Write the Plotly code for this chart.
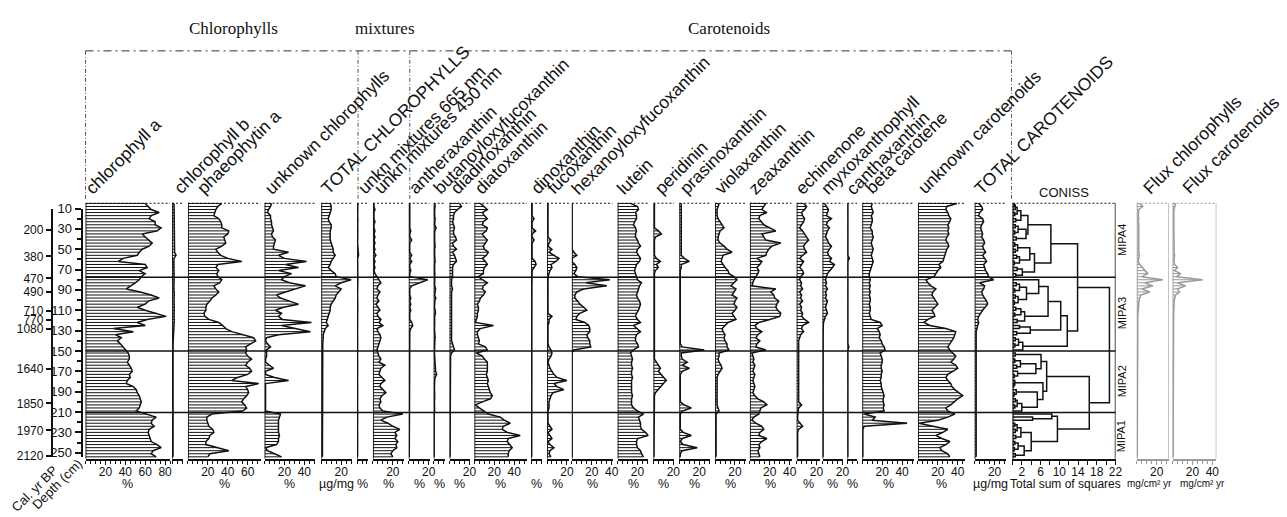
import plotly.graph_objects as go

W, H = 1287, 517

# ---------------- sample depths (cm) ----------------
depth = [5, 8, 11, 14, 17, 20, 23, 26, 29, 32, 35, 38,
         41, 44, 47, 50, 53, 56, 59, 62, 65, 68, 71, 74,
         77, 80, 83, 86, 89, 92, 95, 98, 101, 104, 107, 110,
         113, 116, 119, 122, 125, 128, 131, 134, 137, 140, 143, 146,
         149, 152, 155, 158, 161, 164, 167, 170, 173, 176, 179, 182,
         185, 188, 191, 194, 197, 200, 203, 206, 209, 212, 215, 218,
         221, 224, 227, 230, 233, 236, 239, 242, 245, 248, 251, 254]

# ---------------- pigment series ----------------
chl_a = [60, 63, 66, 74, 66, 64, 70, 70, 76, 72, 57, 60,
         64, 67, 64, 57, 54, 52, 38, 33, 60, 62, 54, 60,
         56, 54, 50, 45, 41, 55, 66, 74, 63, 60, 52, 60,
         72, 81, 62, 52, 60, 28, 48, 30, 36, 32, 35, 38,
         41, 43, 44, 44, 42, 44, 46, 47, 44, 45, 42, 41,
         48, 51, 52, 54, 55, 56, 55, 54, 51, 62, 71, 67,
         66, 69, 64, 63, 64, 65, 66, 72, 76, 68, 66, 71]
chl_b = [2, 2, 1.8, 2, 2.2, 2, 1.8, 2, 2, 1.8, 2, 2.2,
         2, 1.8, 2, 2.5, 2.5, 4, 2, 1.8, 2, 2.2, 1.8, 2,
         2, 2.2, 2, 1.8, 2, 2.5, 2.2, 2, 1.8, 2, 2.2, 2,
         1.8, 2, 2.2, 2, 1.6, 1.8, 1.5, 1.5, 1.2, 1.2, 1.0, 1.0,
         1.0, 1.0, 1.1, 0.9, 1.0, 1.0, 0.9, 1.0, 1.1, 1.0, 1.0, 0.9,
         1.0, 1.1, 1.0, 0.9, 1.0, 1.0, 1.1, 1.0, 0.9, 1.0, 1.0, 1.1,
         1.0, 0.9, 1.0, 1.0, 1.1, 1.0, 0.9, 1.0, 1.0, 1.1, 1.0, 1.0]
phaeo_a = [34, 30, 28, 27, 26, 31, 33, 34, 34, 41, 40, 36,
           37, 38, 34, 28, 30, 33, 40, 54, 30, 28, 31, 29,
           30, 34, 32, 26, 28, 31, 28, 24, 22, 19, 18, 18,
           16, 17, 21, 31, 35, 38, 44, 55, 66, 68, 63, 58,
           59, 58, 60, 64, 60, 58, 62, 64, 60, 50, 44, 71,
           58, 60, 61, 59, 56, 54, 57, 59, 55, 24, 19, 19,
           20, 21, 25, 26, 22, 21, 18, 18, 30, 41, 22, 20]
unk_chl = [7, 6, 4, 3, 6, 6, 7, 7, 8, 9, 7, 8,
           11, 10, 9, 9, 24, 14, 20, 42, 21, 34, 14, 27,
           20, 17, 25, 41, 30, 21, 12, 16, 25, 34, 19, 11,
           17, 14, 18, 47, 17, 30, 46, 14, 2, 1, 3, 6,
           2, 2, 2, 1, 1, 5, 9, 1, 1, 10, 24, 1,
           1, 1, 1, 1, 1, 1, 1, 1, 1, 16, 15, 14,
           14, 14, 14, 14, 15, 14, 14, 12, 1, 3, 10, 17]
tot_chl = [9, 10, 10, 9, 8, 7, 8, 10, 10, 9, 9, 9,
           9, 10, 11, 12, 12, 14, 12, 10, 9, 7, 10, 14,
           15, 30, 20, 14, 20, 17, 15, 14, 12, 10, 9, 9,
           8, 7, 6, 5, 7, 4, 3, 2, 2, 1.5, 1.5, 1.5,
           1.5, 1.2, 1.2, 1.3, 1.2, 1.2, 1.4, 1.3, 1.2, 1.2, 1.3, 1.2,
           1.2, 1.3, 1.2, 1.2, 1.3, 1.2, 1.2, 1.3, 1.2, 1.2, 1.3, 1.2,
           1.2, 1.2, 1.3, 1.2, 1.2, 1.3, 1.2, 1.2, 1.2, 1.3, 1.2, 1.2]
mix_665 = [0.8, 0.6, 0.7, 0.5, 0.6, 0.8, 0.5, 0.6, 0.7, 0.5, 0.6, 0.7,
           0.6, 0.5, 0.7, 0.6, 0.8, 1.5, 0.6, 0.5, 0.7, 0.6, 0.5, 0.6,
           0.7, 0.8, 0.6, 0.5, 0.6, 0.7, 0.5, 0.6, 0.8, 0.6, 0.5, 0.7,
           0.6, 0.5, 0.6, 0.7, 0.5, 0.6, 0.7, 0.5, 0.6, 0.5, 0.6, 0.5,
           0.6, 0.5, 0.6, 0.5, 0.6, 0.5, 0.6, 0.5, 0.6, 0.5, 0.6, 0.5,
           0.6, 0.5, 0.6, 0.5, 0.6, 0.5, 0.6, 0.5, 0.6, 0.5, 0.6, 0.5,
           0.6, 0.5, 0.6, 0.5, 0.6, 0.5, 0.6, 0.5, 0.6, 0.5, 0.6, 0.5]
mix_450 = [1, 1, 2, 1, 1, 1, 2, 1, 1, 2, 1, 2,
           1, 2, 1, 2, 1, 3, 1, 2, 1, 2, 1, 2,
           4, 6, 8, 5, 4, 7, 5, 4, 6, 3, 5, 7,
           4, 5, 8, 6, 10, 4, 5, 7, 8, 7, 6, 5,
           4, 5, 6, 8, 6, 12, 8, 7, 6, 9, 12, 8,
           7, 10, 13, 9, 7, 8, 6, 7, 10, 30, 14, 8,
           15, 20, 27, 22, 24, 22, 25, 23, 24, 20, 18, 20]
anthera = [1, 1, 1, 1, 1, 1, 1, 1, 1, 2, 1, 1,
           3, 1, 1, 1, 1, 3, 1, 3, 1, 1, 2, 1,
           1, 19, 10, 3, 1, 1, 1, 2, 1, 2, 1, 2,
           1, 1, 1, 3, 4, 2, 1, 1, 1, 1, 1, 1,
           0.5, 0.5, 0.5, 0.5, 0.5, 0.5, 0.5, 0.5, 0.5, 0.5, 0.5, 0.5,
           0.5, 0.5, 0.5, 0.5, 0.5, 0.5, 0.5, 0.5, 0.5, 0.5, 0.5, 0.5,
           0.5, 0.5, 0.5, 0.5, 0.5, 0.5, 0.5, 0.5, 0.5, 0.5, 0.5, 0.5]
butanoyl = [1.2, 1.5, 1, 0.8, 1, 1.5, 1.2, 1, 2.5, 1.2, 1, 0.8,
            1, 1.2, 1.5, 1, 0.8, 1, 1.2, 1.5, 1, 0.8, 1, 1.2,
            1, 1.5, 1.2, 1, 2, 1.5, 1, 2.2, 1.2, 1, 0.8, 1.5,
            1.8, 1, 1.2, 1.5, 1, 0.8, 1.2, 1, 1.5, 1.2, 1, 1.2,
            1, 0.8, 1, 1.2, 1, 1.5, 1.2, 2, 3, 1.5, 1, 0.8,
            1, 0.8, 1, 1.2, 1, 0.8, 1, 0.8, 1, 0.5, 0.5, 0.5,
            0.5, 0.5, 0.5, 0.5, 0.5, 0.5, 0.5, 0.5, 0.5, 0.5, 0.5, 0.5]
diadino = [10, 12, 8, 5, 4, 4, 3, 4, 5, 4, 4, 6,
           7, 3, 4, 7, 3, 5, 6, 7, 4, 3, 3, 3,
           3, 2, 2, 2, 3, 2, 2, 2, 2, 2, 2, 2,
           2, 2, 2, 2, 2, 2, 2, 2, 2, 2, 3, 4,
           5, 2, 1, 1, 1, 1, 1, 1, 1, 1, 1, 1,
           1, 1, 1, 1, 1, 1, 1, 1, 1, 0.5, 0.5, 0.5,
           0.5, 0.5, 0.5, 0.5, 0.5, 0.5, 0.5, 0.5, 0.5, 0.5, 0.5, 0.5]
diato = [6, 10, 13, 8, 10, 13, 9, 8, 13, 12, 8, 10,
         13, 11, 9, 10, 14, 12, 8, 11, 13, 10, 9, 9,
         4, 8, 13, 9, 8, 11, 9, 6, 5, 3, 4, 4,
         3, 3, 2, 1, 19, 6, 3, 3, 4, 5, 4, 11,
         13, 2, 8, 10, 13, 13, 13, 13, 12, 13, 14, 13,
         14, 15, 16, 18, 16, 8, 1, 5, 10, 14, 26, 30,
         36, 29, 28, 33, 46, 34, 33, 36, 38, 35, 34, 34]
dino = [1, 1, 1, 1.5, 1, 3, 1, 1, 1, 4.5, 1, 1,
        3, 1, 1, 1, 1, 1, 1, 4, 5, 3, 1, 1,
        0.8, 0.8, 0.8, 0.8, 0.8, 0.8, 0.8, 0.8, 0.8, 0.8, 0.8, 0.8,
        0.8, 0.8, 0.8, 0.8, 0.8, 0.8, 0.6, 0.6, 0.6, 0.6, 0.6, 0.6,
        0.6, 0.6, 0.6, 0.6, 0.6, 0.6, 0.6, 0.6, 0.6, 0.6, 0.6, 0.6,
        0.6, 0.6, 0.6, 0.6, 0.6, 0.6, 0.6, 0.6, 0.6, 0.6, 0.6, 0.6,
        0.6, 0.6, 0.6, 0.6, 0.6, 0.6, 0.6, 0.6, 0.6, 0.6, 0.6, 0.6]
fuco = [1, 1, 1, 1, 1, 1, 1, 1, 1, 1, 1, 1,
        4, 2, 1, 5, 2, 7, 12, 9, 4, 5, 3, 2,
        1, 1, 1, 1, 1, 1, 1, 1, 1, 1, 1, 1,
        1, 5, 2, 2, 1, 1, 1, 1, 1, 1, 1, 2,
        4, 5, 4, 2, 1, 2, 3, 5, 7, 10, 20, 7,
        10, 17, 6, 4, 3, 2, 2, 2, 1, 1, 1, 1,
        1, 3, 5, 1, 3, 5, 1, 3, 7, 3, 2, 4]
hexfuco = [0, 0, 0, 0, 0, 0, 0, 0, 0, 0, 0, 0,
           0, 0, 0, 0, 2, 5, 0, 0, 3, 5, 4, 2,
           6, 38, 14, 35, 12, 5, 3, 3, 6, 8, 12, 15,
           8, 5, 4, 13, 17, 18, 18, 15, 16, 18, 18, 19,
           2, 0, 0, 0, 0, 0, 0, 0, 0, 0, 0, 0,
           0, 0, 0, 0, 0, 0, 0, 0, 0, 0, 0, 0,
           0, 0, 0, 0, 0, 0, 0, 0, 0, 0, 0, 0]
lutein = [13, 20, 21, 18, 19, 19, 17, 16, 18, 19, 18, 18,
          20, 21, 23, 20, 19, 21, 23, 22, 19, 18, 17, 18,
          19, 20, 24, 22, 21, 20, 19, 20, 22, 23, 22, 21,
          19, 18, 20, 23, 16, 20, 23, 19, 18, 18, 20, 21,
          16, 13, 14, 15, 14, 14, 15, 14, 14, 15, 14, 14,
          14, 14, 14, 15, 14, 14, 14, 16, 20, 26, 21, 22,
          23, 23, 24, 28, 31, 20, 19, 19, 20, 23, 24, 26]
peridinin = [1, 1, 1, 1, 1, 1, 1, 1, 1, 5, 8, 2,
             1, 1, 1, 1, 1, 1, 3, 7, 3, 5, 2, 1,
             1, 1, 1, 1, 1, 1, 1, 1, 1, 1, 1, 1,
             1, 1, 1, 1, 1, 1, 1, 1, 1, 1, 1, 1,
             1, 1, 1, 1, 3, 5, 7, 5, 8, 10, 13, 10,
             7, 5, 2, 1, 1, 1, 1, 1, 1, 0.5, 0.5, 0.5,
             0.5, 0.5, 0.5, 0.5, 0.5, 0.5, 0.5, 0.5, 0.5, 0.5, 0.5, 0.5]
prasino = [2, 2, 2, 2, 2, 2, 2, 2, 2, 2, 2, 2,
           2, 2, 2, 2, 2, 2, 5, 10, 2, 2, 1, 1,
           1, 1, 1, 1, 1, 1, 1, 1, 1, 1, 1, 1,
           1, 1, 1, 1, 1, 1, 1, 1, 1, 1, 1, 3,
           25, 2, 2, 3, 8, 3, 10, 3, 1, 1, 1, 1,
           1, 1, 1, 1, 1, 1, 5, 12, 3, 1, 1, 1,
           1, 1, 1, 4, 12, 3, 1, 4, 18, 3, 1, 1]
viola = [4, 3, 2, 2, 2, 3, 5, 7, 9, 5, 4, 3,
         3, 5, 9, 12, 17, 8, 7, 6, 8, 10, 13, 14,
         19, 22, 19, 16, 21, 19, 17, 22, 20, 19, 22, 20,
         17, 19, 21, 13, 10, 7, 8, 10, 9, 10, 12, 12,
         14, 4, 4, 3, 4, 6, 7, 5, 3, 2, 2, 2,
         2, 2, 2, 2, 2, 2, 2, 3, 4, 1, 1, 1,
         1, 1, 1, 1, 1, 1, 1, 1, 1, 1, 1, 1]
zea = [16, 14, 12, 17, 10, 9, 12, 14, 20, 26, 12, 14,
       16, 31, 22, 19, 17, 16, 7, 12, 10, 7, 9, 8,
       6, 4, 3, 2, 26, 21, 24, 25, 29, 27, 26, 28,
       31, 30, 20, 9, 5, 7, 12, 8, 6, 10, 7, 6,
       16, 2, 3, 4, 3, 5, 4, 3, 5, 4, 3, 4,
       5, 4, 3, 5, 8, 14, 17, 11, 10, 9, 4, 2,
       6, 12, 14, 10, 9, 17, 12, 9, 10, 8, 9, 10]
echin = [7, 10, 8, 5, 6, 8, 7, 5, 3, 6, 8, 10,
         12, 9, 7, 8, 10, 6, 3, 7, 5, 3, 6, 7,
         4, 3, 5, 4, 6, 3, 5, 4, 6, 3, 5, 4,
         6, 5, 8, 12, 6, 5, 7, 4, 3, 2, 2, 2,
         2, 1.5, 1.5, 2, 1.5, 1.5, 2, 1.5, 1.5, 2, 1.5, 1.5,
         1.5, 2, 1.5, 1.5, 2, 2, 5, 2, 1.5, 1, 1, 1,
         4, 6, 2, 1, 1, 1, 1, 1, 1, 1, 1, 1]
myxo = [2, 4, 6, 5, 4, 9, 5, 4, 7, 5, 4, 3,
        5, 6, 9, 7, 5, 6, 9, 7, 12, 10, 7, 5,
        4, 3, 4, 3, 5, 3, 4, 3, 5, 4, 3, 4,
        5, 3, 2, 1, 0.8, 0.6, 0.6, 0.6, 0.6, 0.6, 0.6, 0.6,
        0.5, 0.5, 0.5, 0.5, 0.5, 0.5, 0.5, 0.5, 0.5, 0.5, 0.5, 0.5,
        0.5, 0.5, 0.5, 0.5, 0.5, 0.5, 0.5, 0.5, 0.5, 0.5, 0.5, 0.5,
        0.5, 0.5, 0.5, 0.5, 0.5, 0.5, 0.5, 0.5, 0.5, 0.5, 0.5, 0.5]
cantha = [0.4, 0.4, 0.4, 0.4, 0.4, 0.4, 0.4, 0.4, 0.4, 0.4, 0.4, 0.4,
          0.4, 0.4, 0.4, 0.4, 0.4, 0.4, 2, 0.4, 0.4, 0.4, 0.4, 0.4,
          0.4, 0.4, 0.4, 0.4, 0.4, 0.4, 0.4, 0.4, 0.4, 0.4, 0.4, 0.4,
          0.4, 0.4, 0.4, 0.4, 0.4, 0.4, 0.4, 0.4, 0.4, 0.4, 0.4, 1.5,
          0.4, 0.4, 0.4, 0.4, 0.4, 0.4, 0.4, 0.4, 0.4, 0.4, 0.4, 0.4,
          0.4, 0.4, 0.4, 0.4, 0.4, 0.4, 0.4, 0.4, 0.4, 0.4, 0.4, 0.4,
          0.4, 0.4, 0.4, 0.4, 0.4, 0.4, 0.4, 0.4, 0.4, 0.4, 0.4, 0.4]
beta_car = [10, 9, 10, 11, 9, 10, 10, 9, 8, 10, 10, 11,
            10, 9, 10, 11, 10, 9, 10, 11, 10, 9, 8, 7,
            7, 8, 7, 8, 7, 8, 7, 8, 8, 7, 8, 8,
            7, 8, 9, 18, 20, 15, 17, 18, 17, 19, 20, 22,
            23, 18, 19, 20, 20, 19, 19, 20, 19, 19, 18, 19,
            19, 20, 21, 22, 21, 21, 22, 21, 22, 2, 13, 10,
            45, 2, 0.5, 0.5, 0.5, 0.5, 0.5, 0.5, 0.5, 0.5, 0.5, 0.5]
unk_car = [39, 29, 28, 30, 31, 33, 32, 30, 31, 30, 31, 29,
           28, 30, 31, 29, 28, 27, 26, 25, 21, 23, 20, 18,
           16, 8, 10, 13, 18, 15, 14, 16, 18, 20, 17, 14,
           16, 17, 10, 6, 12, 28, 38, 37, 36, 34, 32, 30,
           32, 35, 38, 36, 33, 38, 40, 35, 30, 28, 30, 33,
           34, 37, 41, 45, 40, 37, 33, 28, 30, 37, 30, 20,
           1, 15, 30, 25, 18, 24, 32, 28, 22, 24, 30, 32]
tot_car = [4, 7, 8, 5, 4, 8, 9, 7, 6, 7, 8, 7,
           9, 10, 8, 9, 11, 8, 10, 12, 9, 10, 11, 13,
           14, 19, 5, 10, 9, 7, 8, 10, 12, 13, 10, 8,
           6, 4, 3, 4, 3, 2, 1.5, 1.5, 1.5, 1.5, 1.5, 1.5,
           1.5, 1.5, 1.5, 1.5, 1.5, 1.5, 1.5, 1.5, 1.5, 1.5, 1.5, 1.5,
           1.5, 1.5, 1.5, 1.5, 1.5, 1.5, 1.5, 1.5, 1.5, 1.5, 1.5, 1.5,
           1.5, 1.5, 1.5, 1.5, 1.5, 1.5, 1.5, 1.5, 1.5, 1.5, 1.5, 1.5]
flux_chl = [3, 6, 2, 1.5, 1.5, 2, 1.5, 2, 2, 1.5, 2, 1.5,
            2, 2, 1.5, 2, 2, 2.5, 2, 1.5, 3, 6, 9, 11,
            5, 26, 8, 16, 5, 13, 4, 3, 2, 2, 1.5, 1.5,
            1.2, 1, 1, 1, 0.8, 0.8, 0.7, 0.6, 0.6, 0.6, 0.6, 0.6,
            0.5, 0.5, 0.5, 0.5, 0.5, 0.5, 0.5, 0.5, 0.5, 0.5, 0.5, 0.5,
            0.5, 0.5, 0.5, 0.5, 0.5, 0.5, 0.5, 0.5, 0.5, 0.5, 0.5, 0.5,
            0.5, 0.5, 0.5, 0.5, 0.5, 0.5, 0.5, 0.5, 0.5, 0.5, 0.5, 0.5]
flux_car = [3, 2, 1.5, 1.2, 1.2, 1.5, 1.2, 1.5, 1.5, 1.2, 1.5, 1.2,
            1.5, 1.5, 1.2, 1.5, 1.5, 2, 1.5, 1.2, 2, 5, 2, 8,
            4, 30, 5, 13, 5, 7, 3, 2, 1.5, 1.5, 1.2, 1.2,
            1, 1, 1, 1, 0.8, 0.8, 0.7, 0.6, 0.6, 0.6, 0.6, 0.6,
            0.5, 0.5, 0.5, 0.5, 0.5, 0.5, 0.5, 0.5, 0.5, 0.5, 0.5, 0.5,
            0.5, 0.5, 0.5, 0.5, 0.5, 0.5, 0.5, 0.5, 0.5, 0.5, 0.5, 0.5,
            0.5, 0.5, 0.5, 0.5, 0.5, 0.5, 0.5, 0.5, 0.5, 0.5, 0.5, 0.5]

# CONISS: merge height (total sum of squares) between neighbouring samples
coniss_gap = [0.4, 0.6, 1.0, 0.5, 1.8, 0.7, 3.3, 0.6, 1.2, 0.5, 2.9, 0.8,
              8.2, 0.5, 1.1, 0.6, 3.7, 0.9, 1.5, 0.4, 4.7, 1.0, 2.1, 0.7,
              13.9,
              5.6, 0.8, 1.5, 0.5, 3.0, 0.6, 1.2, 0.4, 7.6, 0.7, 1.8,
              0.5, 2.6, 1.0, 10.3, 1.5, 3.8, 0.9, 11.7, 0.6, 1.3, 0.5, 2.2,
              20.7,
              0.6, 6.1, 0.5, 1.7, 0.9, 5.0, 1.1, 0.4, 7.3, 0.5, 0.3,
              6.5, 0.8, 0.4, 5.3, 0.6, 1.0, 0.5, 2.0,
              16.4,
              8.4, 4.3, 9.6, 0.5, 1.0, 0.6, 1.8, 0.7, 4.0, 0.5, 1.2, 0.4, 2.5, 0.6]

zone_bounds = [77.5, 150, 210.5]
zone_names = ["MIPA4", "MIPA3", "MIPA2", "MIPA1"]
zone_mid = [41, 113, 180, 234]

depth_ticks = [10, 30, 50, 70, 90, 110, 130, 150, 170, 190, 210, 230, 250]
cal_depths = [30.7, 57, 78.6, 92, 110.6, 119.5, 128, 168, 201.6, 228, 253]
cal_ages = ["200", "380", "470", "490", "710", "770", "1080", "1640", "1850", "1970", "2120"]

# ---------------- page geometry (pixels) ----------------
Y_TOP, Y_BOT = 200.7, 463.5          # top / bottom of the diagram panels
D_TOP, D_BOT = 4.25, 256.0           # depth at those edges
PX_PER_CM = (Y_BOT - Y_TOP) / (D_BOT - D_TOP)


def px(x):
    return x / W


def py(y):
    return 1 - y / H


def depth_to_py(d):
    return Y_TOP + (d - D_TOP) * PX_PER_CM


SANS = "Liberation Sans"
SERIF = "Liberation Serif"
BLACK = "#111111"
GREY = "#9a9a9a"
TICK_FS = 12

# label, values, left px, axis range, px per unit, unit, label x-offset, colour
panels = [
    ("chlorophyll a", chl_a, 86, 85, 1.0, "%", 2, BLACK),
    ("chlorophyll b", chl_b, 173, 11, 1.0, "", 4, BLACK),
    ("phaeophytin a", phaeo_a, 189, 73, 1.0, "%", 11, BLACK),
    ("unknown chlorophylls", unk_chl, 266, 51, 1.0, "%", 2, BLACK),
    ("TOTAL CHLOROPHYLLS", tot_chl, 323, 31, 1.0, "µg/mg", 2, BLACK),
    ("unkn mixtures 665 nm", mix_665, 359, 11, 1.0, "%", 3, BLACK),
    ("unkn mixtures 450 nm", mix_450, 375, 31, 1.0, "%", 3, BLACK),
    ("antheraxanthin", anthera, 411, 21, 1.0, "%", 2, BLACK),
    ("butanoyloxyfucoxanthin", butanoyl, 436, 11, 1.0, "%", 2, BLACK),
    ("diadinoxanthin", diadino, 452, 21, 1.0, "%", 3, BLACK),
    ("diatoxanthin", diato, 477, 53, 1.0, "%", 2, BLACK),
    ("dinoxanthin", dino, 534, 11, 1.0, "%", 2, BLACK),
    ("fucoxanthin", fuco, 550, 22, 1.0, "%", 2, BLACK),
    ("hexanoyloxyfucoxanthin", hexfuco, 575, 41, 1.0, "%", 2, BLACK),
    ("lutein", lutein, 621, 31, 1.0, "%", 2, BLACK),
    ("peridinin", peridinin, 657, 21, 1.0, "%", 3, BLACK),
    ("prasinoxanthin", prasino, 683, 31, 1.0, "%", 2, BLACK),
    ("violaxanthin", viola, 719, 31, 1.0, "%", 1, BLACK),
    ("zeaxanthin", zea, 754, 42, 1.0, "%", 1, BLACK),
    ("echinenone", echin, 801, 23, 1.0, "%", 1, BLACK),
    ("myxoxanthophyll", myxo, 827, 21, 1.0, "%", 1, BLACK),
    ("canthaxanthin", cantha, 852, 10, 1.0, "%", 1, BLACK),
    ("beta carotene", beta_car, 867, 52, 1.0, "%", 5, BLACK),
    ("unknown carotenoids", unk_car, 923, 47, 1.0, "%", 2, BLACK),
    ("TOTAL CAROTENOIDS", tot_car, 980, 31, 1.0, "µg/mg", 2, BLACK),
    ("Flux chlorophylls", flux_chl, 1143, 32, 1.0, "mg/cm² yr", 8, GREY),
    ("Flux carotenoids", flux_car, 1179, 44, 1.0, "mg/cm² yr", 12, GREY),
]
# unit captions that sit off the panel centre
unit_x_override = {"Flux chlorophylls": 1156, "Flux carotenoids": 1209}

CONISS_LEFT, CONISS_RANGE, CONISS_SCALE = 1018, 22, 4.71

fig = go.Figure()
layout = dict(width=W, height=H, margin=dict(l=0, r=0, t=0, b=0),
              paper_bgcolor="white", plot_bgcolor="rgba(0,0,0,0)",
              showlegend=False, font=dict(family=SANS, color=BLACK, size=13))
shapes, annotations = [], []

layout["yaxis"] = dict(domain=[py(Y_BOT), py(Y_TOP)], range=[D_BOT, D_TOP],
                       visible=False, anchor="free", position=0)

LBL_FS = 17.5
LBL_Y = 199.0


def axis_names(k):
    return ("xaxis" if k == 1 else f"xaxis{k}"), ("x" if k == 1 else f"x{k}")


def text_ann(text, x, y, size=13, family=SANS, xanchor="center", yanchor="middle", angle=0):
    annotations.append(dict(text=text, x=px(x), y=py(y), xref="paper", yref="paper",
                            xanchor=xanchor, yanchor=yanchor, textangle=angle, showarrow=False,
                            font=dict(family=family, size=size, color=BLACK)))


k = 0
for (label, vals, left, rng, scale, unit, off, col) in panels:
    k += 1
    akey, aref = axis_names(k)
    right = left + rng * scale
    major = [v for v in range(20, int(rng) + 1, 20)]
    minor = [v for v in range(0, int(rng) + 1, 5) if v not in major]
    layout[akey] = dict(domain=[px(left), px(right)], range=[0, rng], anchor="y",
                        showgrid=False, zeroline=False, showline=True, linecolor=col,
                        linewidth=1.5, ticks="outside", ticklen=4, tickwidth=1.2, tickcolor=col,
                        tickmode="array", tickvals=major, ticktext=[str(v) for v in major],
                        ticklabelstandoff=-3,
                        tickfont=dict(family=SANS, size=TICK_FS, color=BLACK),
                        minor=dict(tickmode="array", tickvals=minor, ticks="outside",
                                   ticklen=3, tickcolor=col, tickwidth=1.2))
    # horizontal sample bars
    bx, by = [], []
    for d, v in zip(depth, vals):
        bx += [0, v, None]
        by += [d, d, None]
    fig.add_trace(go.Scatter(x=bx, y=by, xaxis=aref, yaxis="y", mode="lines",
                             line=dict(color=col, width=1), hoverinfo="skip"))
    # profile curve
    fig.add_trace(go.Scatter(x=vals, y=depth, xaxis=aref, yaxis="y", mode="lines",
                             line=dict(color=col, width=1.5), hoverinfo="skip"))
    shapes.append(dict(type="line", xref=aref, yref="y", x0=0, x1=0, y0=D_TOP, y1=D_BOT,
                       line=dict(color=col, width=1.8)))
    shapes.append(dict(type="line", xref=aref, yref="y", x0=0, x1=rng, y0=D_TOP, y1=D_TOP,
                       line=dict(color=col, width=2, dash="2px,2px")))
    if col == GREY:
        shapes.append(dict(type="line", xref=aref, yref="y", x0=rng, x1=rng, y0=D_TOP, y1=D_BOT,
                           line=dict(color=col, width=1.2)))
    if unit:
        ux = unit_x_override.get(label, (left + right) / 2)
        text_ann(unit, ux, 489, size=(10 if "cm" in unit else 12.5))
    # rotated column heading, bottom-left corner just right of the panel axis
    text_ann(label, left + off - 9, LBL_Y, size=LBL_FS, xanchor="left", yanchor="bottom", angle=-45)

# ---------------- CONISS dendrogram ----------------
k += 1
akey, aref = axis_names(k)
c_right = CONISS_LEFT + CONISS_RANGE * CONISS_SCALE
layout[akey] = dict(domain=[px(CONISS_LEFT), px(c_right)], range=[0, CONISS_RANGE], anchor="y",
                    showgrid=False, zeroline=False, showline=True, linecolor=BLACK, linewidth=1.5,
                    ticks="outside", ticklen=4, tickwidth=1.2, tickcolor=BLACK, tickmode="array",
                    tickvals=[2, 6, 10, 14, 18, 22], ticklabelstandoff=-3,
                    tickfont=dict(family=SANS, size=TICK_FS, color=BLACK),
                    minor=dict(tickmode="array", tickvals=[0, 4, 8, 12, 16, 20], ticks="outside",
                               ticklen=4, tickcolor=BLACK, tickwidth=1.2))
dx, dy = [], []


def build(lo, hi):
    if lo == hi:
        return depth[lo], 0.0
    j = max(range(lo, hi), key=lambda i: coniss_gap[i])
    c1, h1 = build(lo, j)
    c2, h2 = build(j + 1, hi)
    h = coniss_gap[j]
    dx.extend([h1, h, h, h2, None])
    dy.extend([c1, c1, c2, c2, None])
    return (c1 + c2) / 2, h


build(0, len(depth) - 1)
fig.add_trace(go.Scatter(x=dx, y=dy, xaxis=aref, yaxis="y", mode="lines",
                         line=dict(color=BLACK, width=1.5), hoverinfo="skip"))
shapes.append(dict(type="line", xref=aref, yref="y", x0=0, x1=0, y0=D_TOP, y1=D_BOT,
                   line=dict(color=BLACK, width=2.5)))
shapes.append(dict(type="line", xref=aref, yref="y", x0=CONISS_RANGE, x1=CONISS_RANGE,
                   y0=D_TOP, y1=D_BOT, line=dict(color=BLACK, width=1.5)))
shapes.append(dict(type="line", xref=aref, yref="y", x0=0, x1=CONISS_RANGE, y0=D_TOP, y1=D_TOP,
                   line=dict(color=BLACK, width=2, dash="2px,2px")))
text_ann("CONISS", (CONISS_LEFT + c_right) / 2, 190, size=13)
text_ann("Total sum of squares", (CONISS_LEFT + c_right) / 2 + 2, 489, size=12)
for name, zm in zip(zone_names, zone_mid):
    text_ann(name, 1128, depth_to_py(zm), size=11, angle=-90)

# zone boundaries across the diagram
for zb in zone_bounds:
    shapes.append(dict(type="line", xref="paper", yref="y", x0=px(86), x1=px(c_right), y0=zb, y1=zb,
                       line=dict(color=BLACK, width=1.5)))

# ---------------- depth and age axes ----------------
d_lo, d_hi = 10, 254.2
dom = [py(depth_to_py(d_hi)), py(depth_to_py(d_lo))]
layout["yaxis2"] = dict(domain=dom, range=[d_hi, d_lo], anchor="free", position=px(82), side="left",
                        showgrid=False, zeroline=False, showline=True, linecolor=BLACK, linewidth=1.8,
                        ticks="outside", ticklen=6, tickwidth=1.5, tickcolor=BLACK, tickmode="array",
                        tickvals=depth_ticks, tickfont=dict(family=SANS, size=13, color=BLACK),
                        minor=dict(tickmode="array", tickvals=[v + 10 for v in depth_ticks[:-1]],
                                   ticks="outside", ticklen=4, tickcolor=BLACK, tickwidth=1.5))
layout["yaxis3"] = dict(domain=dom, range=[d_hi, d_lo], anchor="free", position=px(52), side="left",
                        overlaying="y2", showgrid=False, zeroline=False, showline=True,
                        linecolor=BLACK, linewidth=1.8, ticks="outside", ticklen=5, tickwidth=1.5,
                        tickcolor=BLACK, tickmode="array", tickvals=cal_depths, ticktext=cal_ages,
                        tickfont=dict(family=SANS, size=12, color=BLACK))
fig.add_trace(go.Scatter(x=[1], y=[100], xaxis="x", yaxis="y2", mode="markers",
                         marker=dict(opacity=0), hoverinfo="skip"))
fig.add_trace(go.Scatter(x=[1], y=[100], xaxis="x", yaxis="y3", mode="markers",
                         marker=dict(opacity=0), hoverinfo="skip"))

text_ann("Cal. yr BP", 64, 464, size=13, xanchor="right", yanchor="top", angle=-45)
text_ann("Depth (cm)", 88, 458, size=13, xanchor="right", yanchor="top", angle=-45)

# ---------------- pigment group frames ----------------
FRAME_Y = 45
shapes.append(dict(type="line", xref="paper", yref="paper", x0=px(86), x1=px(1017),
                   y0=py(FRAME_Y), y1=py(FRAME_Y),
                   line=dict(color="#333333", width=1, dash="8px,4px,2px,4px")))
for xv in [86, 360, 412, 1017]:
    shapes.append(dict(type="line", xref="paper", yref="paper", x0=px(xv), x1=px(xv),
                       y0=py(FRAME_Y), y1=py(197),
                       line=dict(color="#555555", width=1, dash="4px,2px,1px,2px")))
for text, cx in [("Chlorophylls", 235), ("mixtures", 387), ("Carotenoids", 733)]:
    text_ann(text, cx, 22, size=17, family=SERIF)

layout["shapes"] = shapes
layout["annotations"] = annotations
fig.update_layout(**layout)
fig.write_html("out.html")
